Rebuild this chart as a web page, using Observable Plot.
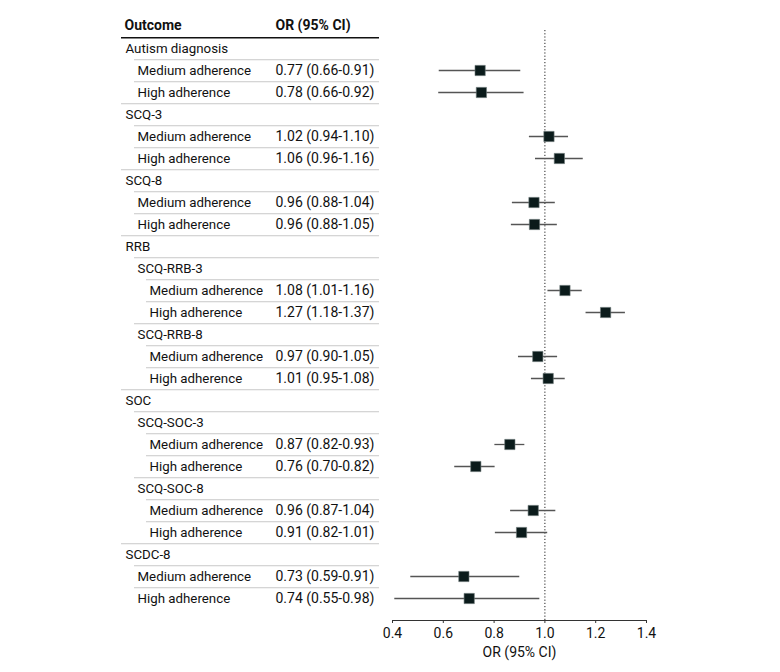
<!DOCTYPE html>
<html>
<head>
<meta charset="utf-8">
<script src="https://cdn.jsdelivr.net/npm/d3@7"></script>
<script src="https://cdn.jsdelivr.net/npm/@observablehq/plot@0.6"></script>
<style>
  html, body { margin: 0; padding: 0; background: #fff; }
  #chart { width: 780px; height: 672px; }
  svg { font-family: Roboto, "Noto Sans", sans-serif; }
</style>
</head>
<body>
<div id="chart"></div>
<script>
// Row labels, indentation level, and OR text column
const labels = [
  "Autism diagnosis", "Medium adherence", "High adherence",
  "SCQ-3", "Medium adherence", "High adherence",
  "SCQ-8", "Medium adherence", "High adherence",
  "RRB", "SCQ-RRB-3", "Medium adherence", "High adherence",
  "SCQ-RRB-8", "Medium adherence", "High adherence",
  "SOC", "SCQ-SOC-3", "Medium adherence", "High adherence",
  "SCQ-SOC-8", "Medium adherence", "High adherence",
  "SCDC-8", "Medium adherence", "High adherence"
];
const levels = [0,1,1, 0,1,1, 0,1,1, 0,1,2,2, 1,2,2, 0,1,2,2, 1,2,2, 0,1,1];
const orText = [
  "", "0.77 (0.66-0.91)", "0.78 (0.66-0.92)",
  "", "1.02 (0.94-1.10)", "1.06 (0.96-1.16)",
  "", "0.96 (0.88-1.04)", "0.96 (0.88-1.05)",
  "", "", "1.08 (1.01-1.16)", "1.27 (1.18-1.37)",
  "", "0.97 (0.90-1.05)", "1.01 (0.95-1.08)",
  "", "", "0.87 (0.82-0.93)", "0.76 (0.70-0.82)",
  "", "0.96 (0.87-1.04)", "0.91 (0.82-1.01)",
  "", "0.73 (0.59-0.91)", "0.74 (0.55-0.98)"
];
// Plotted estimates as drawn in the picture (null = group heading row)
const est = [
  null, 0.745, 0.750,
  null, 1.016, 1.057,
  null, 0.957, 0.959,
  null, null, 1.079, 1.239,
  null, 0.972, 1.013,
  null, null, 0.862, 0.728,
  null, 0.954, 0.908,
  null, 0.681, 0.702
];
const lo = [
  null, 0.584, 0.582,
  null, 0.939, 0.963,
  null, 0.872, 0.868,
  null, null, 1.012, 1.162,
  null, 0.896, 0.947,
  null, null, 0.803, 0.645,
  null, 0.865, 0.805,
  null, 0.472, 0.409
];
const hi = [
  null, 0.905, 0.918,
  null, 1.093, 1.151,
  null, 1.041, 1.049,
  null, null, 1.147, 1.317,
  null, 1.050, 1.080,
  null, null, 0.921, 0.804,
  null, 1.043, 1.011,
  null, 0.901, 0.980
];
const xTicks = [0.4, 0.6, 0.8, 1.0, 1.2, 1.4];
const headers = ["Outcome", "OR (95% CI)"];

const rows = labels.map((label, i) => ({
  i, label, level: levels[i], or: orText[i], est: est[i], lo: lo[i], hi: hi[i]
}));
const points = rows.filter(d => d.est != null);
// separators after each row except last; indentation follows next row
const seps = rows.slice(0, -1).map(d => ({ i: d.i, nextLevel: levels[d.i + 1] }));

const W = 780, H = 672;
const mL = 392, mR = 134, mT = 30, mB = 52;
const step = (604 - 19.5) / 26;
const textX = [125, 137, 149];
const lineX = [121, 134, 146];
const colOR = 275;
const tableRight = 379;
const innerRight = W - mR;
const FS = 14, FSL = 13.3;

const marks = [];
// header line
marks.push(Plot.ruleY([-1], {
  y: d => d, dy: step / 2, stroke: "#111", strokeWidth: 1.5,
  insetLeft: lineX[0] - mL, insetRight: innerRight - tableRight
}));
// separators by level
[0, 1, 2].forEach(lv => {
  marks.push(Plot.ruleY(seps.filter(d => d.nextLevel === lv), {
    y: "i", dy: step / 2, stroke: "#c9c9c9", strokeWidth: 1,
    insetLeft: lineX[lv] - mL, insetRight: innerRight - tableRight
  }));
});
// header texts
marks.push(Plot.text([headers[0]], {
  y: () => -1, text: d => d, frameAnchor: "left", dx: textX[0] - 1 - mL, dy: -1,
  textAnchor: "start", fontWeight: "bold", fontSize: FS, fill: "#111"
}));
marks.push(Plot.text([headers[1]], {
  y: () => -1, text: d => d, frameAnchor: "left", dx: colOR - mL, dy: -1,
  textAnchor: "start", fontWeight: "bold", fontSize: FS, fill: "#111"
}));
// row labels by level
[0, 1, 2].forEach(lv => {
  marks.push(Plot.text(rows.filter(d => d.level === lv), {
    y: "i", text: "label", frameAnchor: "left", dx: textX[lv] - mL,
    textAnchor: "start", fontSize: FSL, fill: "#111"
  }));
});
// OR column
marks.push(Plot.text(rows.filter(d => d.or), {
  y: "i", text: "or", frameAnchor: "left", dx: colOR - mL,
  textAnchor: "start", fontSize: FS, fill: "#111"
}));
// reference line at 1
marks.push(Plot.ruleX([1], { stroke: "#222", strokeWidth: 1, strokeDasharray: "1.2,2" }));
// CI whiskers
marks.push(Plot.ruleY(points, { y: "i", x1: "lo", x2: "hi", stroke: "#555", strokeWidth: 1.3 }));
// estimates
marks.push(Plot.dot(points, { y: "i", x: "est", symbol: "square", r: 5.8, fill: "#0b1b1b", stroke: "#6f7a7a", strokeWidth: 0.6 }));
// axis line
marks.push(Plot.frame({ anchor: "bottom", stroke: "#333", strokeWidth: 1 }));
marks.push(Plot.axisX(xTicks, {
  tickFormat: d => d.toFixed(1), tickSize: 3, tickPadding: 5, fontSize: FS,
  stroke: "#333", fill: "#111", label: null
}));
// axis title
marks.push(Plot.text(["OR (95% CI)"], {
  text: d => d, frameAnchor: "bottom", dy: 36, fontSize: FS, fill: "#111"
}));

const chart = Plot.plot({
  width: W, height: H,
  marginLeft: mL, marginRight: mR, marginTop: mT, marginBottom: mB,
  x: { type: "linear", domain: [0.4, 1.4] },
  y: { type: "point", domain: d3.range(-1, 26), range: [19.5, 604], padding: 0, axis: null },
  style: { fontFamily: "Roboto, 'Noto Sans', sans-serif", background: "#fff", overflow: "visible" },
  marks
});
document.getElementById("chart").appendChild(chart);
</script>
</body>
</html>
